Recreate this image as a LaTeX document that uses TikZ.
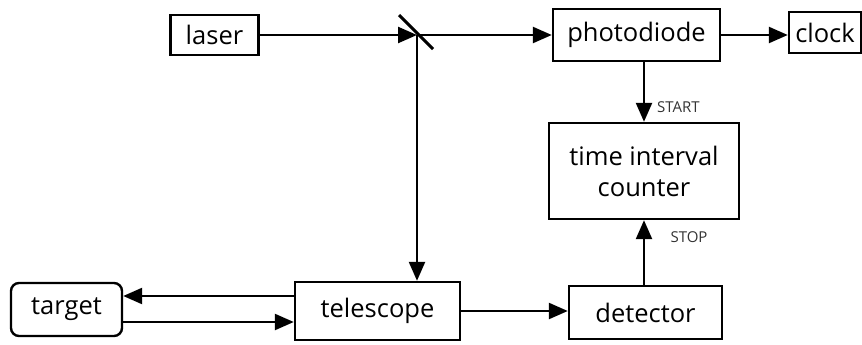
\documentclass[tikz,border=0pt]{standalone}
\usepackage{fontspec}
\setmainfont{Open Sans}
\usetikzlibrary{arrows.meta,calc}
\begin{document}
\begin{tikzpicture}[x=1pt,y=-1pt,
  box/.style={draw,line width=2.4pt,inner sep=0pt,font=\fontsize{25.5}{31}\selectfont},
  arr/.style={line width=2.4pt,-{Triangle[length=19pt,width=16pt]}},
  lbl/.style={font=\fontsize{15}{17}\selectfont,text=black!80,inner sep=0pt}]
\useasboundingbox (0,0) rectangle (862,345);
\node[box,minimum width=88pt,minimum height=40pt] (laser) at (214.5,35) {laser};
\coordinate (bs) at (417,35);
\node[box,minimum width=167pt,minimum height=52pt] (pd) at (636.5,35) {photodiode};
\node[box,minimum width=72pt,minimum height=41pt] (clock) at (825,32.5) {clock};
\node[box,minimum width=190pt,minimum height=96pt,align=center] (tic) at (644,171) {time interval\\counter};
\node[box,minimum width=153pt,minimum height=53pt] (det) at (645.5,312.5) {detector};
\node[box,minimum width=165pt,minimum height=58pt] (tel) at (377.5,311) {telescope};
\node[box,rounded corners=8pt,minimum width=111pt,minimum height=53pt] (tgt) at (66.5,309.5) {target};
\draw[line width=3pt] ($(bs)+(-18,-20)$) -- ($(bs)+(16,14)$);
\draw[arr] (laser.east) -- (bs);
\draw[arr] (bs) -- (pd.west);
\draw[arr] (bs) -- (bs |- tel.north);
\draw[arr] (pd.east) -- (pd.east -| clock.west);
\draw[arr] (tic.north |- pd.south) -- (tic.north);
\draw[arr] (tic.south |- det.north) -- (tic.south);
\node[lbl,anchor=west] (start) at ($(tic.north)+(13,-15)$) {START};
\node[lbl] (stop) at ($(tic.south)+(45,17)$) {STOP};
\draw[arr] ([yshift=15pt]tel.west) -- ([yshift=15pt]tel.west -| tgt.east);
\draw[arr] ([yshift=-11pt]tel.west -| tgt.east) -- ([yshift=-11pt]tel.west);
\draw[arr] (tel.east) -- (tel.east -| det.west);
\end{tikzpicture}
\end{document}
